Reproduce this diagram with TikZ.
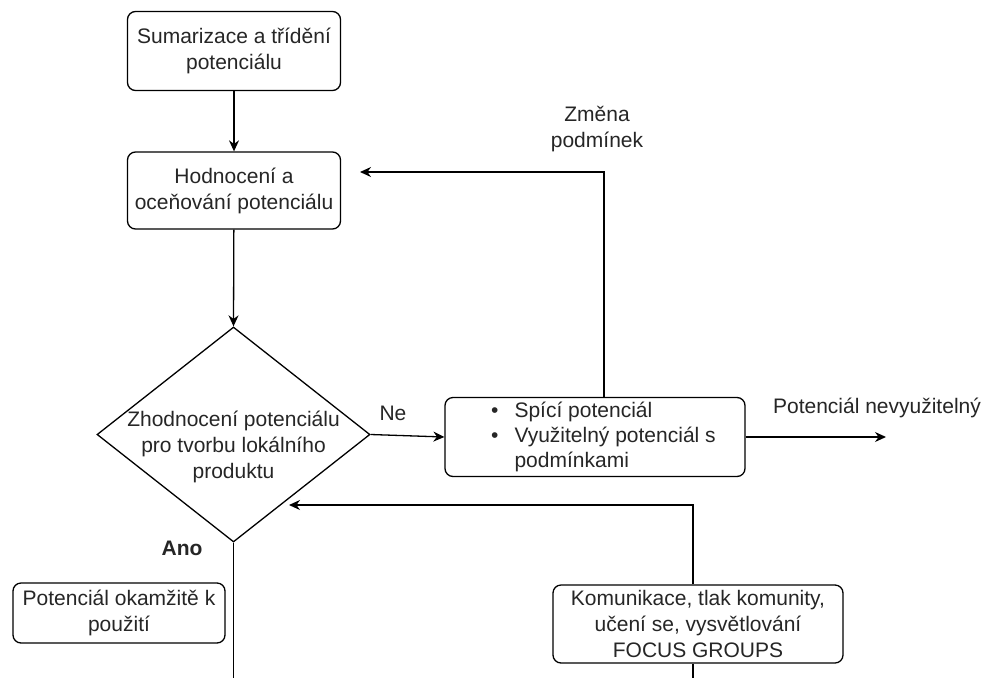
\documentclass[tikz,border=0pt]{standalone}
\usepackage{fontspec}
\setmainfont{Liberation Sans}
\usetikzlibrary{shapes.geometric,arrows.meta}
\begin{document}
\begin{tikzpicture}[x=1pt,y=-1pt,
  every node/.style={font=\fontsize{21}{26}\selectfont, text=black!85},
  box/.style={draw, line width=1.3pt, rounded corners=8pt, align=center, inner sep=0pt},
  conn/.style={line width=1.3pt},
  arr/.style={conn, -{Stealth[length=11pt,width=10pt]}},
  lbl/.style={align=center, inner sep=0pt}
]
\useasboundingbox (0,0) rectangle (987,678);
\fill[white] (0,0) rectangle (987,678);

\node[box, minimum width=213pt, minimum height=79pt] (sum) at (234,51) {Sumarizace a třídění\\potenciálu};
\node[box, minimum width=213pt, minimum height=77pt] (hod) at (234,190.5) {Hodnocení a\\oceňování potenciálu};
\node[diamond, draw, line width=1.3pt, minimum width=273pt, minimum height=215pt, inner sep=0pt] (dec) at (233.5,434.5) {};
\node[lbl] (dectext) at (233.5,447) {Zhodnocení potenciálu\\pro tvorbu lokálního\\produktu};
\node[box, minimum width=300pt, minimum height=79pt] (spic) at (595,437) {};
\node[anchor=west, inner sep=0pt] (spictext) at (491,437) {%
  \begin{tabular}{@{}l@{\hspace{16pt}}l@{}}
  \textbullet & Spící potenciál\\[-1pt]
  \textbullet & Využitelný potenciál s\\[-1pt]
  & podmínkami
  \end{tabular}};
\node[box, minimum width=212pt, minimum height=60pt] (okam) at (119,613) {Potenciál okamžitě k\\použití};
\node[box, minimum width=290pt, minimum height=78pt] (kom) at (698,624) {Komunikace, tlak komunity,\\učení se, vysvětlování\\FOCUS GROUPS};

\node[lbl] (zmena) at (597,129) {Změna\\podmínek};
\node[lbl] (ne) at (393,413) {Ne};
\node[lbl] (nevyu) at (877,408) {Potenciál nevyužitelný};
\node[lbl, font=\fontsize{21}{26}\selectfont\bfseries] (ano) at (182,548) {Ano};

\coordinate (loopc) at (604,172);
\coordinate (hodin) at (360,172);
\coordinate (outend) at (886,437);
\coordinate (bot1) at (233.5,678);
\coordinate (fbc) at (693,505);
\coordinate (decin) at (289,505);
\coordinate (bot2) at (693,678);

\draw[arr] (sum) -- (hod);
\draw[arr] (hod) -- (dec.north);
\draw[arr] (dec.east) -- (spic.west);
\draw[arr] (spic.east) -- (outend);
\draw[arr] (spic.north -| loopc) -- (loopc) -- (hodin);
\draw[conn] (dec.south) -- (bot1);
\draw[arr] (kom.north -| fbc) -- (fbc) -- (decin);
\draw[conn] (kom.south -| bot2) -- (bot2);
\end{tikzpicture}
\end{document}
